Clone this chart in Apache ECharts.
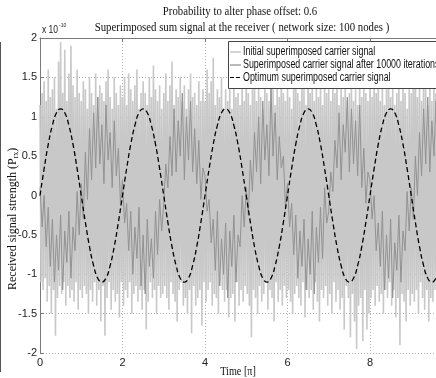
<!DOCTYPE html>
<html><head><meta charset="utf-8">
<script src="https://cdn.jsdelivr.net/npm/echarts@6/dist/echarts.min.js"></script>
<style>html,body{margin:0;padding:0;background:#fff}#c{width:436px;height:378px}</style>
</head><body><div id="c"></div>
<script>
// ---- data (values in units of 1e-10) ----
var titleLines = ['Probability to alter phase offset: 0.6', 'Superimposed sum signal at the receiver ( network size: 100 nodes )'];
var seriesNames = ['Initial superimposed carrier signal', 'Superimposed carrier signal after 10000 iterations', 'Optimum superimposed carrier signal'];
var xTicks = [0, 2, 4, 6, 8];
var xMax = 9.6;           // visible end of the time axis (figure is cropped)
var yTicks = [-2, -1.5, -1, -0.5, 0, 0.5, 1, 1.5, 2];
var initialStep = 0.025;  // time step of the initial carrier samples [pi]
var iteratedStep = 0.05;  // time step of the iterated carrier samples [pi]
var optStep = 0.1;        // time step of the optimum samples [pi]

var initialSignal = [
 1.15,-1.1,1.3,-1.2,1.45,-1.05,1.2,-1.35,1.6,-1.15,1.25,-1.5,1.35,-1.2,1.5,-1.78,1.1,-1.3,1.7,-1.15,
 1.95,-1.25,1.3,-1.1,1.85,-1.4,1.2,-1.15,1.55,-1.3,1.9,-1.2,1.4,-1.35,1.25,-1.1,1.6,-1.45,1.3,-1.2,
 1.2,-1.3,1.45,-1.15,1.35,-1.25,1.1,-1.5,1.5,-1.2,1.3,-1.35,1.15,-1.1,1.55,-1.4,1.25,-1.2,1.4,-1.6,
 1.3,-1.15,1.2,-1.78,1.45,-1.3,1.6,-1.1,1.25,-1.45,1.1,-1.2,1.5,-1.35,1.3,-1.25,1.15,-1.55,1.4,-1.1,
 1.25,-1.4,1.5,-1.2,1.15,-1.3,1.55,-1.1,1.35,-1.5,1.2,-1.25,1.4,-1.15,1.6,-1.35,1.1,-1.2,1.3,-1.45,
 1.45,-1.2,1.3,-1.7,1.15,-1.35,1.5,-1.1,1.25,-1.3,1.65,-1.2,1.35,-1.5,1.2,-1.15,1.4,-1.3,1.1,-1.25,
 1.3,-1.15,1.55,-1.3,1.2,-1.45,1.4,-1.1,1.7,-1.25,1.15,-1.35,1.35,-1.6,1.25,-1.2,1.5,-1.1,1.2,-1.4,
 1.4,-1.3,1.1,-1.5,1.35,-1.2,1.55,-1.75,1.25,-1.15,1.3,-1.4,1.15,-1.3,1.45,-1.2,1.2,-1.65,1.35,-1.1,
 1.2,-1.35,1.6,-1.2,1.3,-1.1,1.45,-1.4,1.75,-1.25,1.15,-1.3,1.35,-1.5,1.25,-1.15,1.5,-1.2,1.1,-1.35,
 1.35,-1.2,1.2,-1.55,1.4,-1.3,1.1,-1.25,1.5,-1.6,1.25,-1.1,1.3,-1.4,1.15,-1.2,1.45,-1.35,1.2,-1.15,
 1.5,-1.25,1.3,-1.4,1.15,-1.8,1.35,-1.2,1.6,-1.3,1.2,-1.5,1.4,-1.15,1.25,-1.35,1.1,-1.25,1.45,-1.1,
 1.3,-1.45,1.2,-1.2,1.55,-1.3,1.35,-1.6,1.15,-1.1,1.4,-1.35,1.25,-1.2,1.65,-1.4,1.3,-1.15,1.2,-1.3,
 1.4,-1.2,1.25,-1.35,1.1,-1.5,1.45,-1.25,1.6,-1.15,1.3,-1.3,1.2,-1.4,1.5,-1.1,1.35,-1.55,1.15,-1.2,
 1.9,-1.3,1.3,-1.2,1.5,-1.45,1.2,-1.1,1.4,-1.35,1.25,-1.6,1.55,-1.2,1.15,-1.3,1.45,-1.15,1.3,-1.4,
 1.35,-1.25,1.2,-1.5,1.45,-1.1,1.3,-1.35,1.6,-1.2,1.15,-1.45,1.4,-1.3,1.25,-1.7,1.5,-1.15,1.2,-1.3,
 1.3,-1.8,1.45,-1.25,1.2,-1.6,1.35,-1.95,1.15,-1.4,1.5,-1.3,1.25,-1.85,1.4,-1.2,1.3,-1.7,1.2,-1.5,
 1.45,-1.3,1.25,-1.2,1.6,-1.4,1.3,-1.15,1.7,-1.35,1.2,-1.25,1.4,-1.5,1.15,-1.2,1.35,-1.3,1.5,-1.1,
 1.25,-1.4,1.4,-1.2,1.15,-1.55,1.3,-1.3,1.5,-1.9,1.2,-1.25,1.45,-1.35,1.3,-1.6,1.1,-1.2,1.35,-1.4,
 1.3,-1.25,1.55,-1.35,1.8,-1.2,1.25,-1.5,1.4,-1.1,1.2,-1.3,1.6,-1.45,1.35,-1.2,1.15,-1.6,1.45,-1.3,
 1.2,-1.35,1.4,-1.2,1.3,-1.5,1.55,-1.15,1.25,-1.3,1.45,-1.6,1.1,-1.25,1.35,-1.4,1.2,-1.3,1.5,-1.2
];
var iteratedSignal = [
 0.1,-0.4,0.0,-0.65,-0.15,-0.9,-0.3,-1.1,-0.5,-0.95,-0.25,-1.2,-0.45,-0.85,-0.2,-1.05,-0.4,-0.7,0.05,-0.5,
 0.15,-0.3,0.55,-0.05,0.85,0.2,1.05,0.35,1.25,0.4,0.9,0.15,1.15,0.45,0.8,0.1,0.95,0.25,0.6,-0.1,
 0.2,-0.35,-0.1,-0.7,-0.2,-1.0,-0.4,-0.8,-0.15,-1.15,-0.5,-1.25,-0.3,-0.9,-0.55,-1.05,-0.2,-0.75,-0.05,-0.45,
 -0.1,0.4,0.1,0.75,0.25,1.1,0.3,0.95,0.5,1.3,0.2,1.0,0.45,1.2,0.3,0.85,0.15,0.7,-0.05,0.35,
 0.25,-0.2,-0.05,-0.6,-0.3,-0.95,-0.2,-1.15,-0.55,-1.0,-0.35,-1.3,-0.45,-0.9,-0.25,-1.1,-0.5,-0.65,0.0,-0.4,
 0.1,-0.25,0.45,0.05,0.8,0.3,1.0,0.15,1.2,0.45,0.9,0.25,1.35,0.5,1.05,0.2,0.75,0.35,0.5,-0.15,
 0.15,-0.4,-0.1,-0.75,-0.25,-1.05,-0.45,-0.9,-0.3,-1.2,-0.55,-1.0,-0.2,-1.25,-0.4,-0.85,-0.15,-0.8,0.1,-0.35,
 -0.2,0.3,0.05,0.7,0.35,1.05,0.2,0.9,0.55,1.25,0.3,1.1,0.4,0.95,0.25,1.15,0.1,0.6,-0.1,0.3,
 0.2,-0.3,0.0,-0.7,-0.35,-0.9,-0.2,-1.2,-0.5,-1.05,-0.3,-1.3,-0.6,-0.95,-0.25,-1.1,-0.45,-0.7,0.05,-0.45,
 0.1,-0.3,0.5,0.0,0.8,0.25,1.1,0.4,1.25,0.3,0.95,0.5,1.2,0.2,0.85,0.35,0.7,0.1,0.45,-0.2
];
var optimumSignal = [
 0,0.34,0.65,0.89,1.05,1.1,1.05,0.89,0.65,0.34,0,-0.34,-0.65,-0.89,-1.05,-1.1,-1.05,-0.89,-0.65,-0.34,
 0,0.34,0.65,0.89,1.05,1.1,1.05,0.89,0.65,0.34,0,-0.34,-0.65,-0.89,-1.05,-1.1,-1.05,-0.89,-0.65,-0.34,
 0,0.34,0.65,0.89,1.05,1.1,1.05,0.89,0.65,0.34,0,-0.34,-0.65,-0.89,-1.05,-1.1,-1.05,-0.89,-0.65,-0.34,
 0,0.34,0.65,0.89,1.05,1.1,1.05,0.89,0.65,0.34,0,-0.34,-0.65,-0.89,-1.05,-1.1,-1.05,-0.89,-0.65,-0.34,
 0,0.34,0.65,0.89,1.05,1.1,1.05,0.89,0.65,0.34,0,-0.34,-0.65,-0.89,-1.05,-1.1,-1.05,-0.89,-0.65,-0.34,
 0
];

function pairs(vals, step){ return vals.map(function(v,i){ return [+(i*step).toFixed(3), v]; }); }

var serif = '"Liberation Serif","Times New Roman",serif';
var narrow = '"Liberation Sans Narrow","Arial Narrow","Liberation Sans",sans-serif';
var sans = '"Liberation Sans",Arial,sans-serif';
var axisGray = '#7a7a7a';
var lightCol = '#c8c8c8', darkCol = '#929292';
var tsx = 0.83, lsx = 0.74;

var chart = echarts.init(document.getElementById('c'), null, {renderer:'canvas'});
var option = {
  animation: false,
  backgroundColor: '#fff',
  grid: {left: 40, top: 38, height: 315, right: 0, containLabel: false},
  xAxis: [{
    type: 'value', min: xTicks[0], max: xMax, interval: 2,
    axisLine: {lineStyle: {color: axisGray, width: 1}},
    axisTick: {inside: true, length: 4, lineStyle: {color: axisGray}},
    axisLabel: {color: '#222', fontSize: 11, fontFamily: narrow, margin: 4, showMaxLabel: false},
    splitLine: {show: true, lineStyle: {color: '#b0b0b0', type: [1,2], width: 1}}
  },{
    type: 'value', position: 'top', min: xTicks[0], max: xMax, interval: 2,
    axisLine: {show: true, onZero: false, lineStyle: {color: axisGray, width: 1}},
    axisTick: {inside: true, length: 4, lineStyle: {color: axisGray}},
    axisLabel: {show: false}, splitLine: {show: false}
  }],
  yAxis: {
    type: 'value', min: yTicks[0], max: yTicks[yTicks.length-1], interval: 0.5,
    axisLine: {show: true, lineStyle: {color: axisGray, width: 1}},
    axisTick: {show: true, inside: true, length: 4, lineStyle: {color: axisGray}},
    axisLabel: {color: '#222', fontSize: 11, fontFamily: narrow, margin: 3},
    splitLine: {show: true, lineStyle: {color: '#b0b0b0', type: [1,2], width: 1}}
  },
  series: [
    {name: seriesNames[0], type: 'line', data: pairs(initialSignal, initialStep), showSymbol: false, symbol: 'none',
     lineStyle: {color: lightCol, width: 1.6}, z: 2},
    {name: seriesNames[1], type: 'line', data: pairs(iteratedSignal, iteratedStep), showSymbol: false, symbol: 'none',
     lineStyle: {color: darkCol, width: 1}, z: 3},
    {name: seriesNames[2], type: 'line', data: pairs(optimumSignal, optStep), showSymbol: false, symbol: 'none', smooth: true,
     lineStyle: {color: '#000', width: 1.3, type: [5,3]}, z: 4}
  ],
  graphic: [
    {type:'text', x: 240, y: 5, scaleX: tsx, style:{text: titleLines[0], font: '13px '+serif, fill:'#111', textAlign:'center'}},
    {type:'text', x: 242, y: 21, scaleX: tsx, style:{text: titleLines[1], font: '13px '+serif, fill:'#111', textAlign:'center'}},
    {type:'text', x: 42, y: 25, scaleX: 0.85, style:{text: 'x 10', font: '10px '+sans, fill:'#222'}},
    {type:'text', x: 59, y: 22, scaleX: 0.85, style:{text: '-10', font: '6px '+sans, fill:'#222'}},
    {type:'text', x: 238, y: 366, scaleX: 0.85, style:{text: 'Time [\u03c0]', font: '12px '+serif, fill:'#111', textAlign:'center'}},
    {type:'text', x: 6, y: 290, rotation: Math.PI/2, style:{
      text: '{a|Received signal strength (P}{b|rx}{a|)}',
      rich: {a:{font:'12px '+serif, fill:'#111'}, b:{font:'8px '+serif, fill:'#111', padding:[6,0,0,0]}}}},
    {type:'line', shape:{x1:0.5,y1:42,x2:0.5,y2:372}, style:{stroke:'#555', lineWidth:1}},
    {type:'rect', z: 100, shape:{x:228.5,y:41.5,width:240,height:47}, style:{fill:'#fff', stroke:'#444', lineWidth:1}},
    {type:'line', z: 101, shape:{x1:230,y1:52,x2:241,y2:52}, style:{stroke:'#aaaaaa', lineWidth:1}},
    {type:'line', z: 101, shape:{x1:230,y1:65,x2:241,y2:65}, style:{stroke:'#777', lineWidth:1}},
    {type:'line', z: 101, shape:{x1:230,y1:77.5,x2:241,y2:77.5}, style:{stroke:'#000', lineWidth:1.2, lineDash:[4,2]}},
    {type:'text', z: 101, x:243, y:52, scaleX: lsx, style:{text: seriesNames[0], font:'12px '+sans, fill:'#111', textVerticalAlign:'middle'}},
    {type:'text', z: 101, x:243, y:65, scaleX: lsx, style:{text: seriesNames[1], font:'12px '+sans, fill:'#111', textVerticalAlign:'middle'}},
    {type:'text', z: 101, x:243, y:77.5, scaleX: lsx, style:{text: seriesNames[2], font:'12px '+sans, fill:'#111', textVerticalAlign:'middle'}}
  ]
};
chart.setOption(option);
</script></body></html>
